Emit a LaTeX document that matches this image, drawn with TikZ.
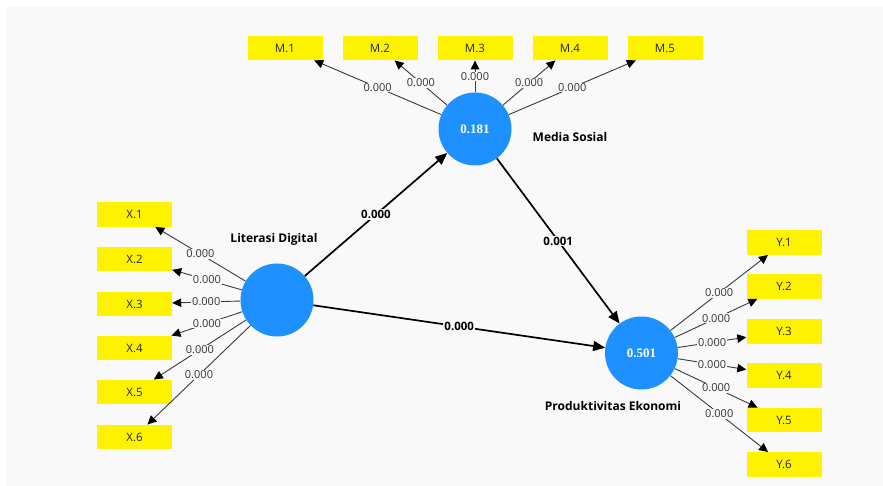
\documentclass[tikz,border=0pt]{standalone}
\usepackage{fontspec}
\setmainfont{Open Sans}
\newfontfamily\numfont{Liberation Serif}
\usetikzlibrary{arrows.meta}
\definecolor{bg}{HTML}{F9F9F9}
\definecolor{lvc}{HTML}{1E90FF}
\definecolor{indc}{HTML}{3A3A3A}
\begin{document}
\begin{tikzpicture}[x=1pt,y=-1pt,
 lv/.style={circle,fill=lvc,minimum size=73pt,inner sep=0pt,text=white,font=\numfont\bfseries\fontsize{13}{13}\selectfont},
 indbox/.style={fill=yellow,minimum width=75pt,minimum height=24.5pt,inner sep=0pt,font=\fontsize{11.5}{11.5}\selectfont,text=black!85},
 load/.style={draw=indc,line width=0.9pt,-{Triangle[length=9pt,width=8.5pt,color=black]}},
 lbl/.style={fill=bg,inner sep=0.8pt,font=\fontsize{11}{11}\selectfont,text=black!80},
 pathline/.style={draw=black,line width=1.7pt,-{Triangle[length=12pt,width=10pt]}},
 plbl/.style={fill=bg,inner sep=1pt,font=\bfseries\fontsize{11.5}{11.5}\selectfont},
 lvname/.style={font=\bfseries\fontsize{12}{12}\selectfont}]
\useasboundingbox (0,0) rectangle (883,486);
\fill[bg] (7,7) rectangle (883,486);

% latent variables
\node[lv] (ms) at (475,129) {0.181};
\node[lv] (ld) at (277,300) {};
\node[lv] (pe) at (641.5,353) {0.501};

\node[lvname] (msn) at (570,137) {Media Sosial};
\node[lvname] (ldn) at (274,239) {Literasi Digital};
\node[lvname] (pen) at (613,406) {Produktivitas Ekonomi};

% indicators
\node[indbox] (m1) at (285,48) {M.1};
\node[indbox] (m2) at (380,48) {M.2};
\node[indbox] (m3) at (475,48) {M.3};
\node[indbox] (m4) at (570,48) {M.4};
\node[indbox] (m5) at (665,48) {M.5};

\node[indbox] (x1) at (134.5,214.5) {X.1};
\node[indbox] (x2) at (134.5,259) {X.2};
\node[indbox] (x3) at (134.5,304) {X.3};
\node[indbox] (x4) at (134.5,348) {X.4};
\node[indbox] (x5) at (134.5,392) {X.5};
\node[indbox] (x6) at (134.5,437) {X.6};

\node[indbox] (y1) at (784,242.5) {Y.1};
\node[indbox] (y2) at (784,286.5) {Y.2};
\node[indbox] (y3) at (784,331.5) {Y.3};
\node[indbox] (y4) at (784,375.5) {Y.4};
\node[indbox] (y5) at (784,420) {Y.5};
\node[indbox] (y6) at (784,464.5) {Y.6};

% outer loadings
\foreach \t in {m1,m2,m3,m4,m5}
  \draw[load] (ms) -- node[lbl] {0.000} (\t);
\foreach \t in {x1,x2,x3,x4,x5,x6}
  \draw[load] (ld) -- node[lbl] {0.000} (\t);
\foreach \t in {y1,y2,y3,y4,y5,y6}
  \draw[load] (pe) -- node[lbl] {0.000} (\t);

% structural paths
\draw[pathline] (ld) -- node[plbl] {0.000} (ms);
\draw[pathline] (ms) -- node[plbl] {0.001} (pe);
\draw[pathline] (ld) -- node[plbl] {0.000} (pe);
\end{tikzpicture}
\end{document}
